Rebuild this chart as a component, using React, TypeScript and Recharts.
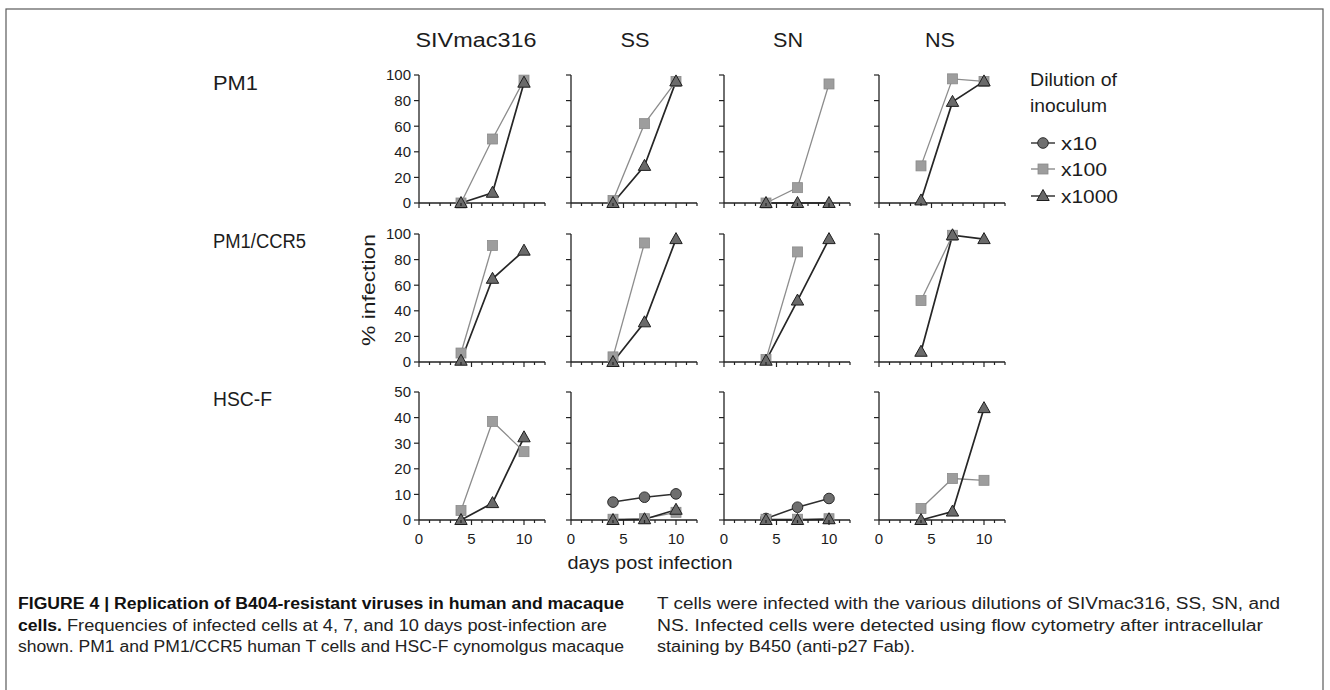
import React from 'react';
import { LineChart, Line, XAxis, YAxis } from 'recharts';

// ---------------- data ----------------
const DAYS = [4, 7, 10];
const COLUMNS = ['SIVmac316', 'SS', 'SN', 'NS'];
const CELL_LINES = ['PM1', 'PM1/CCR5', 'HSC-F'];
const DILUTIONS = ['x10', 'x100', 'x1000'];

type Vals = (number | null)[];
// each array: one entry per column (SIVmac316, SS, SN, NS), values at days 4, 7, 10
const PM1_X10: Vals[] = [[null, null, null], [null, null, null], [null, null, null], [null, null, null]];
const PM1_X100: Vals[] = [[0, 50, 96], [2, 62, 95], [0, 12, 93], [29, 97, 95]];
const PM1_X1000: Vals[] = [[0, 8, 94], [0, 29, 95], [0, 0, 0], [2, 79, 95]];

const CCR5_X10: Vals[] = [[null, null, null], [null, null, null], [null, null, null], [null, null, null]];
const CCR5_X100: Vals[] = [[7, 91, null], [4, 93, null], [2, 86, null], [48, 99, null]];
const CCR5_X1000: Vals[] = [[1, 65, 87], [0, 31, 96], [1, 48, 96], [8, 99, 96]];

const HSCF_X10: Vals[] = [[null, null, null], [7, 8.9, 10.2], [0.6, 5, 8.4], [null, null, null]];
const HSCF_X100: Vals[] = [[3.7, 38.5, 26.7], [0.3, 0.5, 3], [0.3, 0.3, 0.5], [4.5, 16.2, 15.5]];
const HSCF_X1000: Vals[] = [[0, 6.6, 32.3], [0, 0.3, 4], [0, 0, 0.3], [0, 3.3, 43.7]];

const Y_TICKS_100 = [0, 20, 40, 60, 80, 100];
const Y_TICKS_50 = [0, 10, 20, 30, 40, 50];
const X_TICKS = [0, 1, 2, 3, 4, 5, 6, 7, 8, 9, 10, 11, 12];
const X_LABELS = [0, 5, 10];

const CAPTION_LEFT = [
  'FIGURE 4 | Replication of B404-resistant viruses in human and macaque',
  'cells.',
  'Frequencies of infected cells at 4, 7, and 10 days post-infection are',
  'shown. PM1 and PM1/CCR5 human T cells and HSC-F cynomolgus macaque',
];
const CAPTION_RIGHT = [
  'T cells were infected with the various dilutions of SIVmac316, SS, SN, and',
  'NS. Infected cells were detected using flow cytometry after intracellular',
  'staining by B450 (anti-p27 Fab).',
];

const ROW_DATA = [
  { x10: PM1_X10, x100: PM1_X100, x1000: PM1_X1000, ticks: Y_TICKS_100, max: 100 },
  { x10: CCR5_X10, x100: CCR5_X100, x1000: CCR5_X1000, ticks: Y_TICKS_100, max: 100 },
  { x10: HSCF_X10, x100: HSCF_X100, x1000: HSCF_X1000, ticks: Y_TICKS_50, max: 50 },
];

// ---------------- style / layout ----------------
const FONT = '"Liberation Sans", Arial, Helvetica, sans-serif';
const TEXT = '#1c1c1c';
const AXIS = '#222';
const AX_X = [419, 571, 724, 879];
const AX_Y = [75, 234, 392];
const PLOT_W = 126;
const PLOT_H = 128;
const LEFT = 45;
const TOP = 10;
const RIGHT = 14;
const BOTTOM = 30;

const SQ_FILL = '#9d9d9d';
const SQ_STROKE = '#8a8a8a';
const TRI_FILL = '#6a6a6a';
const TRI_STROKE = '#1e1e1e';
const CIR_FILL = '#6f6f6f';
const CIR_STROKE = '#2a2a2a';

const Square = ({ cx, cy }: { cx: number; cy: number }) => (
  <rect x={cx - 5} y={cy - 5} width={10} height={10} fill={SQ_FILL} stroke={SQ_STROKE} strokeWidth={0.8} />
);
const Triangle = ({ cx, cy }: { cx: number; cy: number }) => (
  <polygon
    points={`${cx},${cy - 6.5} ${cx - 6.2},${cy + 4.5} ${cx + 6.2},${cy + 4.5}`}
    fill={TRI_FILL}
    stroke={TRI_STROKE}
    strokeWidth={1}
  />
);
const Circle = ({ cx, cy }: { cx: number; cy: number }) => (
  <circle cx={cx} cy={cy} r={5.3} fill={CIR_FILL} stroke={CIR_STROKE} strokeWidth={1} />
);

const makeDot = (kind: string) => (props: any) => {
  const { cx, cy, value, index } = props;
  const k = `${kind}-${index}`;
  if (cx == null || cy == null || value == null || Number.isNaN(cy)) return <g key={k} />;
  if (kind === 'x10') return <g key={k}><Circle cx={cx} cy={cy} /></g>;
  if (kind === 'x100') return <g key={k}><Square cx={cx} cy={cy} /></g>;
  return <g key={k}><Triangle cx={cx} cy={cy} /></g>;
};

const makeXTick = (showLabels: boolean) => (props: any) => {
  const { x, y, payload } = props;
  const v = payload.value;
  const major = v % 5 === 0;
  return (
    <g>
      <line x1={x} x2={x} y1={y} y2={y + (major ? 5 : 3)} stroke={AXIS} strokeWidth={1.2} />
      {showLabels && X_LABELS.includes(v) && (
        <text x={x} y={y + 24} textAnchor="middle" fontSize={15} fill={TEXT} fontFamily={FONT}>
          {v}
        </text>
      )}
    </g>
  );
};

const EmptyTick = () => <g />;

function Panel({ r, c }: { r: number; c: number }) {
  const rd = ROW_DATA[r];
  const data = DAYS.map((d, i) => ({
    day: d,
    x10: rd.x10[c][i],
    x100: rd.x100[c][i],
    x1000: rd.x1000[c][i],
  }));
  const hasX10 = rd.x10[c].some((v) => v != null);
  return (
    <div
      style={{
        position: 'absolute',
        left: AX_X[c] - LEFT,
        top: AX_Y[r] - TOP,
        width: LEFT + PLOT_W + RIGHT,
        height: TOP + PLOT_H + BOTTOM,
      }}
    >
      <LineChart
        width={LEFT + PLOT_W + RIGHT}
        height={TOP + PLOT_H + BOTTOM}
        data={data}
        margin={{ top: TOP, right: RIGHT, bottom: 0, left: 0 }}
      >
        <XAxis
          dataKey="day"
          type="number"
          domain={[0, 12]}
          ticks={X_TICKS}
          interval={0}
          height={BOTTOM}
          tickSize={0}
          tickMargin={0}
          tickLine={false}
          axisLine={{ stroke: AXIS, strokeWidth: 1.3 }}
          tick={makeXTick(r === 2)}
        />
        <YAxis
          type="number"
          domain={[0, rd.max]}
          ticks={rd.ticks}
          interval={0}
          width={LEFT}
          tickSize={5}
          tickMargin={3}
          tickLine={{ stroke: AXIS, strokeWidth: 1.2 }}
          axisLine={{ stroke: AXIS, strokeWidth: 1.3 }}
          tick={c === 0 ? { fontSize: 15, fill: TEXT, fontFamily: FONT } : EmptyTick}
        />
        {hasX10 && (
          <Line
            dataKey="x10"
            type="linear"
            stroke="#2e2e2e"
            strokeWidth={1.5}
            dot={makeDot('x10')}
            activeDot={false}
            connectNulls={false}
            isAnimationActive={false}
          />
        )}
        <Line
          dataKey="x100"
          type="linear"
          stroke="#8c8c8c"
          strokeWidth={1.3}
          dot={makeDot('x100')}
          activeDot={false}
          connectNulls={false}
          isAnimationActive={false}
        />
        <Line
          dataKey="x1000"
          type="linear"
          stroke="#262626"
          strokeWidth={1.7}
          dot={makeDot('x1000')}
          activeDot={false}
          connectNulls={false}
          isAnimationActive={false}
        />
      </LineChart>
    </div>
  );
}

const HEADER_X = [476, 635, 788, 940];
const HEADER_W = [121, 29, 30, 30];
const ROW_LABEL_Y = [90, 248, 406];
const ROW_LABEL_W = [45, 93, 59];
const LEGEND_Y = [143, 169, 196];
const LEGEND_W = [36, 46, 57];

const SG = 'spacingAndGlyphs';

export default function App() {
  const panels = [];
  for (let r = 0; r < 3; r++) for (let c = 0; c < 4; c++) panels.push(<Panel key={`${r}-${c}`} r={r} c={c} />);
  return (
    <div style={{ position: 'absolute', left: 0, top: 0, width: 1330, height: 690, background: '#fff', overflow: 'hidden' }}>
      <svg width={1330} height={690} style={{ position: 'absolute', left: 0, top: 0 }} fontFamily={FONT}>
        <rect x={6} y={9} width={1317} height={700} fill="none" stroke="#5a5a5a" strokeWidth={1.2} />
        {COLUMNS.map((t, i) => (
          <text key={t} x={HEADER_X[i]} y={47} textAnchor="middle" fontSize={20} fill={TEXT} textLength={HEADER_W[i]} lengthAdjust={SG}>
            {t}
          </text>
        ))}
        {CELL_LINES.map((t, i) => (
          <text key={t} x={213} y={ROW_LABEL_Y[i]} fontSize={20} fill={TEXT} textLength={ROW_LABEL_W[i]} lengthAdjust={SG}>
            {t}
          </text>
        ))}
        <text
          x={0}
          y={0}
          transform="translate(375,290) rotate(-90)"
          textAnchor="middle"
          fontSize={18}
          fill={TEXT}
          textLength={112}
          lengthAdjust={SG}
        >
          % infection
        </text>
        <text x={650} y={569} textAnchor="middle" fontSize={18} fill={TEXT} textLength={165} lengthAdjust={SG}>
          days post infection
        </text>
        {/* legend */}
        <text x={1030} y={86} fontSize={18} fill={TEXT} textLength={87} lengthAdjust={SG}>Dilution of</text>
        <text x={1030} y={112} fontSize={18} fill={TEXT} textLength={77} lengthAdjust={SG}>inoculum</text>
        {DILUTIONS.map((d, i) => {
          const y = LEGEND_Y[i];
          const lineColor = i === 0 ? '#2e2e2e' : i === 1 ? '#8c8c8c' : '#262626';
          return (
            <g key={d}>
              <line x1={1031} x2={1055} y1={y} y2={y} stroke={lineColor} strokeWidth={1.4} />
              {i === 0 ? <Circle cx={1043} cy={y} /> : i === 1 ? <Square cx={1043} cy={y} /> : <Triangle cx={1043} cy={y} />}
              <text x={1061} y={y + 6.5} fontSize={19} fill={TEXT} textLength={LEGEND_W[i]} lengthAdjust={SG}>{d}</text>
            </g>
          );
        })}
        {/* caption */}
        <text x={18} y={609} fontSize={16} fontWeight="bold" fill="#111" textLength={606} lengthAdjust={SG}>{CAPTION_LEFT[0]}</text>
        <text x={18} y={631} fontSize={16} fontWeight="bold" fill="#111" textLength={44} lengthAdjust={SG}>{CAPTION_LEFT[1]}</text>
        <text x={67} y={631} fontSize={16} fill="#222" textLength={540} lengthAdjust={SG}>{CAPTION_LEFT[2]}</text>
        <text x={18} y={652} fontSize={16} fill="#222" textLength={606} lengthAdjust={SG}>{CAPTION_LEFT[3]}</text>
        <text x={657} y={609} fontSize={16} fill="#222" textLength={623} lengthAdjust={SG}>{CAPTION_RIGHT[0]}</text>
        <text x={657} y={631} fontSize={16} fill="#222" textLength={606} lengthAdjust={SG}>{CAPTION_RIGHT[1]}</text>
        <text x={657} y={652} fontSize={16} fill="#222" textLength={258} lengthAdjust={SG}>{CAPTION_RIGHT[2]}</text>
      </svg>
      {panels}
    </div>
  );
}
